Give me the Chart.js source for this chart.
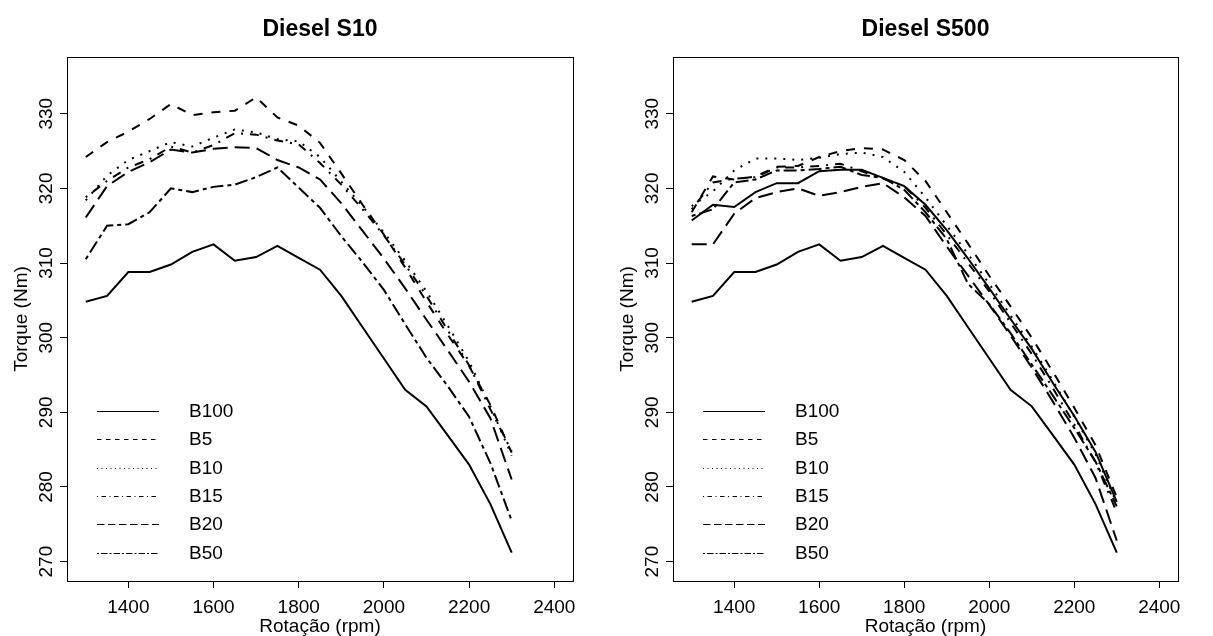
<!DOCTYPE html>
<html>
<head>
<meta charset="utf-8">
<title>Torque x Rotação</title>
<script src="https://cdn.jsdelivr.net/npm/chart.js@4.4.1/dist/chart.umd.min.js"></script>
<style>
  html, body { margin: 0; padding: 0; background: #fff; }
  #wrap { position: relative; width: 1213px; height: 636px; }
  canvas { position: absolute; top: 0; }
</style>
</head>
<body>
<div id="wrap">
  <canvas id="chartS10" width="606" height="636" style="left:0"></canvas>
  <canvas id="chartS500" width="607" height="636" style="left:606px"></canvas>
</div>
<script>
// Data
const rpm = [1300, 1350, 1400, 1450, 1500, 1550, 1600, 1650, 1700, 1750, 1800,
             1850, 1900, 1950, 2000, 2050, 2100, 2150, 2200, 2250, 2300];
const xTicks = [1400, 1600, 1800, 2000, 2200, 2400];
const yTicks = [270, 280, 290, 300, 310, 320, 330];
const legendNames = ['B100', 'B5', 'B10', 'B15', 'B20', 'B50'];

// Diesel S10
const s10B100 = [304.8, 305.6, 308.8, 308.8, 309.8, 311.5, 312.5, 310.3, 310.8, 312.3, 310.7,
                 309.1, 305.6, 301.4, 297.2, 293.0, 290.8, 286.9, 283.0, 277.7, 271.2];
const s10B5   = [324.2, 326.2, 327.6, 329.3, 331.3, 329.8, 330.2, 330.4, 332.2, 329.5, 328.4,
                 326.1, 322.0, 317.8, 313.8, 309.4, 304.8, 300.4, 296.2, 291.0, 284.6];
const s10B10  = [318.4, 321.7, 323.8, 325.0, 326.2, 325.6, 326.8, 327.9, 327.5, 326.6, 326.3,
                 324.2, 320.9, 317.6, 314.1, 310.3, 306.2, 301.6, 296.8, 290.8, 284.2];
const s10B15  = [318.8, 321.0, 322.8, 323.9, 325.6, 324.8, 325.8, 327.4, 327.2, 326.4, 325.9,
                 323.4, 320.5, 317.2, 313.7, 309.8, 305.6, 301.0, 296.3, 290.4, 284.8];
const s10B20  = [316.1, 320.3, 322.2, 323.5, 325.2, 324.8, 325.3, 325.5, 325.4, 323.8, 322.8,
                 321.2, 318.0, 314.3, 310.6, 306.6, 302.4, 298.3, 294.1, 289.2, 281.0];
const s10B50  = [310.5, 315.0, 315.2, 316.8, 320.0, 319.5, 320.2, 320.5, 321.5, 322.8, 320.1,
                 317.4, 313.6, 310.1, 306.4, 301.8, 297.3, 293.5, 289.4, 283.2, 275.5];

// Diesel S500 (the upper solid curve has no legend entry)
const s500Diesel = [315.7, 317.8, 317.5, 319.5, 320.7, 320.7, 322.3, 322.5, 322.5, 321.4, 320.3,
                    317.8, 314.4, 310.6, 306.6, 302.5, 298.5, 293.9, 289.5, 284.7, 278.0];
const s500B100 = [304.8, 305.6, 308.8, 308.8, 309.8, 311.5, 312.5, 310.3, 310.8, 312.3, 310.7,
                  309.1, 305.6, 301.4, 297.2, 293.0, 290.8, 286.9, 283.0, 277.7, 271.2];
const s500B5   = [316.8, 321.6, 321.2, 321.6, 322.9, 323.0, 324.2, 325.0, 325.4, 325.2, 323.8,
                  321.0, 316.8, 312.6, 308.3, 304.2, 300.0, 295.4, 290.6, 285.6, 278.6];
const s500B10  = [317.6, 319.6, 322.4, 324.0, 324.0, 323.8, 324.1, 324.6, 324.8, 324.2, 322.2,
                  318.8, 315.0, 311.2, 307.2, 303.0, 298.8, 294.2, 289.4, 284.4, 277.8];
const s500B15  = [317.2, 320.8, 321.3, 321.5, 322.8, 322.8, 323.0, 323.3, 322.3, 321.3, 320.3,
                  317.4, 313.8, 310.0, 306.2, 302.0, 297.8, 293.2, 288.4, 283.3, 276.6];
const s500B20  = [312.5, 312.5, 316.6, 318.7, 319.5, 320.0, 319.0, 319.5, 320.2, 320.7, 318.8,
                  316.3, 312.2, 308.3, 304.4, 300.3, 296.0, 291.4, 286.6, 281.2, 272.8];
const s500B50  = [316.3, 317.2, 320.8, 321.2, 322.4, 322.4, 322.6, 322.9, 321.8, 321.4, 319.8,
                  316.8, 313.2, 307.2, 304.5, 300.6, 296.4, 292.2, 287.9, 283.4, 277.4];

// R line types (solid, dashed, dotted, dotdash, longdash, twodash), scaled for lwd 2
const dashes = {
  B100: [], B5: [9, 9], B10: [2, 7], B15: [2, 7, 9, 7], B20: [15, 7], B50: [4, 4, 13, 4]
};

const FONT = '"Liberation Sans", Arial, Helvetica, sans-serif';

// box frame, rotated y tick labels and the in-plot legend
const frameAndText = {
  id: 'frameAndText',
  afterDraw(chart) {
    const {ctx, chartArea: a} = chart;
    const y = chart.scales.y;
    ctx.save();
    ctx.strokeStyle = '#000';
    ctx.lineWidth = 1;
    ctx.setLineDash([]);
    ctx.strokeRect(Math.round(a.left) + 0.5, Math.round(a.top) + 0.5,
                   Math.round(a.right - a.left), Math.round(a.bottom - a.top));

    ctx.fillStyle = '#000';
    ctx.font = '19px ' + FONT;
    ctx.textAlign = 'center';
    ctx.textBaseline = 'middle';
    y.ticks.forEach(t => {
      ctx.save();
      ctx.translate(a.left - 20, y.getPixelForValue(t.value));
      ctx.rotate(-Math.PI / 2);
      ctx.fillText(String(t.value), 0, 0);
      ctx.restore();
    });

    ctx.textAlign = 'left';
    legendNames.forEach((name, i) => {
      const ly = Math.round(a.bottom - 170 + i * 28.3) + 0.5;
      ctx.lineWidth = 1;
      ctx.setLineDash(dashes[name].map(d => d / 2));
      ctx.beginPath();
      ctx.moveTo(a.left + 30, ly);
      ctx.lineTo(a.left + 92, ly);
      ctx.stroke();
      ctx.fillText(name, a.left + 122, ly);
    });
    ctx.restore();
  }
};

function makeSet(name, values) {
  return {
    label: name,
    data: rpm.map((x, i) => ({x: x, y: values[i]})),
    borderColor: '#000',
    borderWidth: 2,
    borderDash: dashes[name],
    pointRadius: 0,
    fill: false,
    tension: 0
  };
}

function makeChart(id, title, sets, padRight) {
  return new Chart(document.getElementById(id), {
    type: 'line',
    data: { datasets: sets },
    options: {
      responsive: false,
      animation: false,
      devicePixelRatio: 1,
      layout: { padding: { left: 0, right: padRight, top: 0, bottom: 0 } },
      plugins: {
        legend: { display: false },
        tooltip: { enabled: false },
        title: {
          display: true,
          text: title,
          fullSize: false,
          color: '#000',
          font: { family: FONT, size: 23, weight: 'bold', lineHeight: 1.2 },
          padding: { top: 16.2, bottom: 13.2 }
        }
      },
      scales: {
        x: {
          type: 'linear',
          min: 1256,
          max: 2444,
          afterBuildTicks: s => { s.ticks = xTicks.map(v => ({value: v})); },
          afterFit: s => { s.height = 55; },
          grid: { drawOnChartArea: false, drawTicks: true, tickLength: 7, color: '#000' },
          border: { display: false },
          ticks: {
            color: '#000', font: { family: FONT, size: 19 }, padding: 8,
            maxRotation: 0, autoSkip: false, callback: v => String(v)
          },
          title: {
            display: true, text: 'Rotação (rpm)', color: '#000',
            font: { family: FONT, size: 19, lineHeight: 1 }, padding: { top: 0, bottom: 0 }
          }
        },
        y: {
          type: 'linear',
          min: 267.4,
          max: 337.6,
          afterBuildTicks: s => { s.ticks = yTicks.map(v => ({value: v})); },
          afterFit: s => { s.width = 67; },
          grid: { drawOnChartArea: false, drawTicks: true, tickLength: 7, color: '#000' },
          border: { display: false },
          ticks: { display: false },
          title: {
            display: true, text: 'Torque (Nm)', color: '#000',
            font: { family: FONT, size: 19, lineHeight: 1 }, padding: { top: 12.5, bottom: 0 }
          }
        }
      }
    },
    plugins: [frameAndText]
  });
}

makeChart('chartS10', 'Diesel S10', [
  makeSet('B100', s10B100),
  makeSet('B5', s10B5),
  makeSet('B10', s10B10),
  makeSet('B15', s10B15),
  makeSet('B20', s10B20),
  makeSet('B50', s10B50)
], 33);

makeChart('chartS500', 'Diesel S500', [
  makeSet('B100', s500B100),
  makeSet('B100', s500Diesel),
  makeSet('B5', s500B5),
  makeSet('B10', s500B10),
  makeSet('B15', s500B15),
  makeSet('B20', s500B20),
  makeSet('B50', s500B50)
], 35);
</script>
</body>
</html>
